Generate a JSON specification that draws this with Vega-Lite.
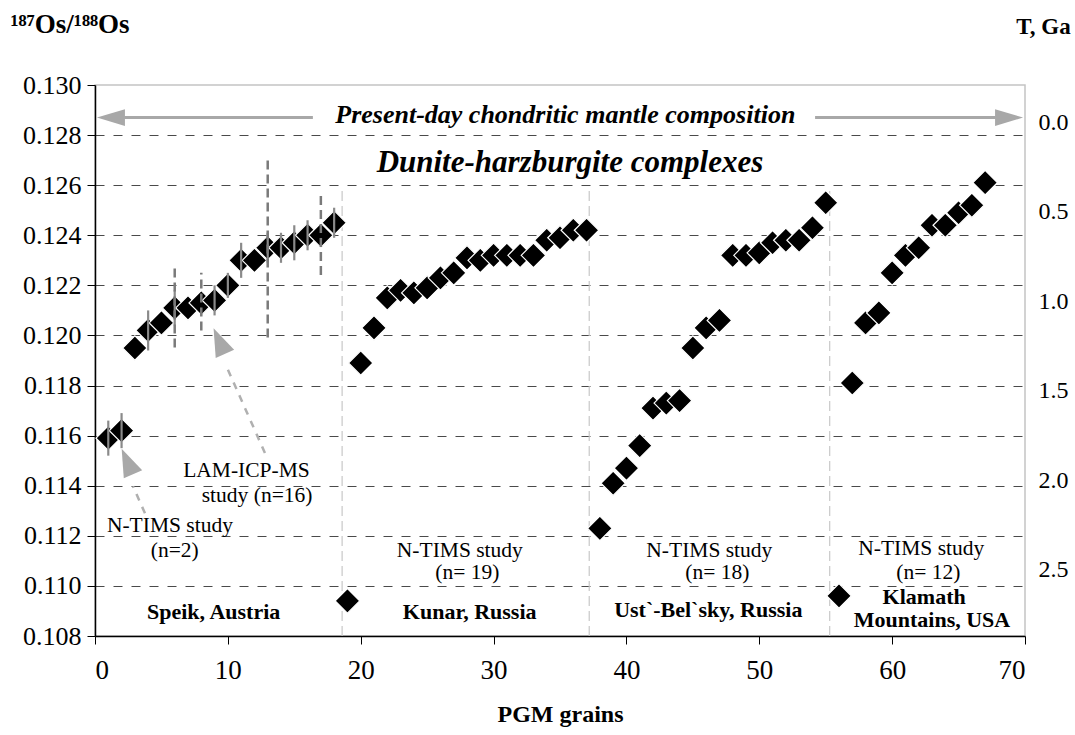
{
  "$schema": "https://vega.github.io/schema/vega-lite/v6.json",
  "width": 930,
  "height": 551,
  "autosize": {"type": "none"},
  "padding": {"left": 95, "top": 85, "right": 50, "bottom": 99},
  "background": "white",
  "config": {
    "view": {"stroke": "#c4c4c4", "strokeWidth": 1.5},
    "font": "Liberation Serif"
  },
  "datasets": {
    "grains": [
      {"x": 1, "y": 0.1159, "complex": "Speik"},
      {"x": 2, "y": 0.1162, "complex": "Speik"},
      {"x": 3, "y": 0.1195, "complex": "Speik"},
      {"x": 4, "y": 0.1202, "complex": "Speik"},
      {"x": 5, "y": 0.1205, "complex": "Speik"},
      {"x": 6, "y": 0.1211, "complex": "Speik"},
      {"x": 7, "y": 0.1211, "complex": "Speik"},
      {"x": 8, "y": 0.1213, "complex": "Speik"},
      {"x": 9, "y": 0.1214, "complex": "Speik"},
      {"x": 10, "y": 0.1220, "complex": "Speik"},
      {"x": 11, "y": 0.1230, "complex": "Speik"},
      {"x": 12, "y": 0.1230, "complex": "Speik"},
      {"x": 13, "y": 0.1235, "complex": "Speik"},
      {"x": 14, "y": 0.1235, "complex": "Speik"},
      {"x": 15, "y": 0.1237, "complex": "Speik"},
      {"x": 16, "y": 0.1240, "complex": "Speik"},
      {"x": 17, "y": 0.1240, "complex": "Speik"},
      {"x": 18, "y": 0.1245, "complex": "Speik"},
      {"x": 19, "y": 0.1094, "complex": "Kunar"},
      {"x": 20, "y": 0.1189, "complex": "Kunar"},
      {"x": 21, "y": 0.1203, "complex": "Kunar"},
      {"x": 22, "y": 0.1215, "complex": "Kunar"},
      {"x": 23, "y": 0.1218, "complex": "Kunar"},
      {"x": 24, "y": 0.1217, "complex": "Kunar"},
      {"x": 25, "y": 0.1219, "complex": "Kunar"},
      {"x": 26, "y": 0.1223, "complex": "Kunar"},
      {"x": 27, "y": 0.1225, "complex": "Kunar"},
      {"x": 28, "y": 0.1231, "complex": "Kunar"},
      {"x": 29, "y": 0.1230, "complex": "Kunar"},
      {"x": 30, "y": 0.1232, "complex": "Kunar"},
      {"x": 31, "y": 0.1232, "complex": "Kunar"},
      {"x": 32, "y": 0.1232, "complex": "Kunar"},
      {"x": 33, "y": 0.1232, "complex": "Kunar"},
      {"x": 34, "y": 0.1238, "complex": "Kunar"},
      {"x": 35, "y": 0.1239, "complex": "Kunar"},
      {"x": 36, "y": 0.1242, "complex": "Kunar"},
      {"x": 37, "y": 0.1242, "complex": "Kunar"},
      {"x": 38, "y": 0.1123, "complex": "Ust-Belsky"},
      {"x": 39, "y": 0.1141, "complex": "Ust-Belsky"},
      {"x": 40, "y": 0.1147, "complex": "Ust-Belsky"},
      {"x": 41, "y": 0.1156, "complex": "Ust-Belsky"},
      {"x": 42, "y": 0.1171, "complex": "Ust-Belsky"},
      {"x": 43, "y": 0.1173, "complex": "Ust-Belsky"},
      {"x": 44, "y": 0.1174, "complex": "Ust-Belsky"},
      {"x": 45, "y": 0.1195, "complex": "Ust-Belsky"},
      {"x": 46, "y": 0.1203, "complex": "Ust-Belsky"},
      {"x": 47, "y": 0.1206, "complex": "Ust-Belsky"},
      {"x": 48, "y": 0.1232, "complex": "Ust-Belsky"},
      {"x": 49, "y": 0.1232, "complex": "Ust-Belsky"},
      {"x": 50, "y": 0.1233, "complex": "Ust-Belsky"},
      {"x": 51, "y": 0.1237, "complex": "Ust-Belsky"},
      {"x": 52, "y": 0.1238, "complex": "Ust-Belsky"},
      {"x": 53, "y": 0.1238, "complex": "Ust-Belsky"},
      {"x": 54, "y": 0.1243, "complex": "Ust-Belsky"},
      {"x": 55, "y": 0.1253, "complex": "Ust-Belsky"},
      {"x": 56, "y": 0.1096, "complex": "Klamath"},
      {"x": 57, "y": 0.1181, "complex": "Klamath"},
      {"x": 58, "y": 0.1205, "complex": "Klamath"},
      {"x": 59, "y": 0.1209, "complex": "Klamath"},
      {"x": 60, "y": 0.1225, "complex": "Klamath"},
      {"x": 61, "y": 0.1232, "complex": "Klamath"},
      {"x": 62, "y": 0.1235, "complex": "Klamath"},
      {"x": 63, "y": 0.1244, "complex": "Klamath"},
      {"x": 64, "y": 0.1244, "complex": "Klamath"},
      {"x": 65, "y": 0.1249, "complex": "Klamath"},
      {"x": 66, "y": 0.1252, "complex": "Klamath"},
      {"x": 67, "y": 0.1261, "complex": "Klamath"}
    ],
    "err_small": [
      {"x": 1, "y": 0.1152, "y2": 0.1166},
      {"x": 2, "y": 0.1155, "y2": 0.1169},
      {"x": 4, "y": 0.1194, "y2": 0.1210},
      {"x": 6, "y": 0.1204, "y2": 0.1218},
      {"x": 9, "y": 0.1208, "y2": 0.1220},
      {"x": 10, "y": 0.1215, "y2": 0.1225},
      {"x": 11, "y": 0.1223, "y2": 0.1237},
      {"x": 13, "y": 0.1229, "y2": 0.1241},
      {"x": 14, "y": 0.1229, "y2": 0.1241},
      {"x": 15, "y": 0.1230, "y2": 0.1244},
      {"x": 16, "y": 0.1234, "y2": 0.1246},
      {"x": 18, "y": 0.1239, "y2": 0.1251}
    ],
    "err_big": [
      {"x": 6, "y": 0.11952, "y2": 0.12269},
      {"x": 8, "y": 0.1202, "y2": 0.1225},
      {"x": 13, "y": 0.11992, "y2": 0.12711},
      {"x": 17, "y": 0.12241, "y2": 0.12574}
    ],
    "separators": [
      {"x": 18.6, "y": 0.108, "y2": 0.1259},
      {"x": 37.2, "y": 0.108, "y2": 0.1259},
      {"x": 55.3, "y": 0.108, "y2": 0.1259}
    ],
    "chondrite_line": [
      {"x": 2.2, "x2": 16.4, "y": 0.1287},
      {"x": 54.2, "x2": 67.8, "y": 0.1287}
    ],
    "chondrite_heads": [
      {"x": 1.2, "y": 0.1287, "dir": "left"},
      {"x": 68.8, "y": 0.1287, "dir": "right"}
    ],
    "pointers": [
      {"x": 12.79, "y": 0.11531, "x2": 9.93, "y2": 0.11872},
      {"x": 3.76, "y": 0.1129, "x2": 2.86, "y2": 0.11398}
    ],
    "pointer_heads": [
      {"x": 9.4, "y": 0.11972},
      {"x": 2.48, "y": 0.11491}
    ],
    "banner": [
      {"x": 35.4, "y": 0.1288, "text": "Present-day chondritic mantle composition"}
    ],
    "heading": [
      {"x": 35.75, "y": 0.12689, "text": "Dunite-harzburgite complexes"}
    ],
    "study_labels": [
      {"x": 11.4, "y": 0.1146, "text": "LAM-ICP-MS"},
      {"x": 12.2, "y": 0.1136, "text": "study (n=16)"},
      {"x": 5.64, "y": 0.1124, "text": "N-TIMS study"},
      {"x": 6.0, "y": 0.1114, "text": "(n=2)"},
      {"x": 27.46, "y": 0.11141, "text": "N-TIMS study"},
      {"x": 28.03, "y": 0.1105, "text": "(n= 19)"},
      {"x": 46.24, "y": 0.11141, "text": "N-TIMS study"},
      {"x": 46.84, "y": 0.1105, "text": "(n= 18)"},
      {"x": 62.19, "y": 0.11149, "text": "N-TIMS study"},
      {"x": 62.72, "y": 0.11053, "text": "(n= 12)"}
    ],
    "site_labels": [
      {"x": 8.93, "y": 0.10897, "text": "Speik, Austria"},
      {"x": 28.2, "y": 0.10897, "text": "Kunar, Russia"},
      {"x": 46.16, "y": 0.10904, "text": "Ust`-Bel`sky, Russia"},
      {"x": 62.41, "y": 0.10956, "text": "Klamath"},
      {"x": 63.0, "y": 0.10862, "text": "Mountains, USA"}
    ],
    "tscale": [
      {"T": 0.0},
      {"T": 2.5}
    ]
  },
  "layer": [
    {
      "encoding": {
        "x": {
          "field": "x",
          "type": "quantitative",
          "scale": {"domain": [0, 70], "nice": false, "zero": false},
          "axis": {
            "values": [0, 10, 20, 30, 40, 50, 60, 70],
            "grid": false,
            "domainColor": "black",
            "domainWidth": 1.5,
            "tickColor": "black",
            "tickSize": 8,
            "labelFont": "Liberation Serif",
            "labelFontSize": 27,
            "labelColor": "black",
            "labelPadding": 13,
            "title": "PGM grains",
            "titleFont": "Liberation Serif",
            "titleFontSize": 24,
            "titleFontWeight": "bold",
            "titleColor": "black",
            "titleBaseline": "alphabetic",
            "titleY": 85
          }
        },
        "y": {
          "field": "y",
          "type": "quantitative",
          "scale": {"domain": [0.108, 0.130], "nice": false, "zero": false},
          "axis": {
            "values": [0.108, 0.110, 0.112, 0.114, 0.116, 0.118, 0.120, 0.122, 0.124, 0.126, 0.128, 0.130],
            "format": ".3f",
            "grid": true,
            "gridDash": [9, 9],
            "gridColor": "#4a4a4a",
            "gridWidth": 1.2,
            "gridOpacity": {"condition": {"test": "datum.value > 0.1295 || datum.value < 0.1085", "value": 0}, "value": 1},
            "domainColor": "black",
            "domainWidth": 1.5,
            "tickColor": "black",
            "tickSize": 8,
            "labelFont": "Liberation Serif",
            "labelFontSize": 26,
            "labelColor": "black",
            "labelPadding": 6,
            "title": "¹⁸⁷Os/¹⁸⁸Os",
            "titleAngle": 0,
            "titleAlign": "left",
            "titleBaseline": "alphabetic",
            "titleX": -85,
            "titleY": -53,
            "titleFont": "Liberation Serif",
            "titleFontSize": 27,
            "titleFontWeight": "bold",
            "titleColor": "black"
          }
        }
      },
      "layer": [
        {
          "data": {"name": "separators"},
          "mark": {"type": "rule", "color": "#c8c8c8", "strokeWidth": 1.2, "strokeDash": [10, 5]},
          "encoding": {"y2": {"field": "y2"}}
        },
        {
          "data": {"name": "chondrite_line"},
          "mark": {"type": "rule", "color": "#a8a8a8", "strokeWidth": 3},
          "encoding": {"x2": {"field": "x2"}}
        },
        {
          "data": {"name": "chondrite_heads"},
          "mark": {"type": "point", "filled": true, "color": "#a8a8a8", "opacity": 1, "size": 784},
          "encoding": {
            "shape": {
              "field": "dir",
              "type": "nominal",
              "scale": {"domain": ["left", "right"], "range": ["M -1 0 L 1 -0.6 L 1 0.6 Z", "M 1 0 L -1 -0.6 L -1 0.6 Z"]},
              "legend": null
            }
          }
        },
        {
          "data": {"name": "pointers"},
          "mark": {"type": "rule", "color": "#b0b0b0", "strokeWidth": 2.5, "strokeDash": [7, 7]},
          "encoding": {"x2": {"field": "x2"}, "y2": {"field": "y2"}}
        },
        {
          "data": {"name": "pointer_heads"},
          "mark": {"type": "point", "filled": true, "color": "#a8a8a8", "opacity": 1, "size": 961, "angle": 336, "shape": "M 0 -1 L 0.65 0.8 L -0.65 0.8 Z"},
          "encoding": {}
        },
        {
          "data": {"name": "grains"},
          "mark": {"type": "point", "shape": "diamond", "filled": true, "fill": "black", "stroke": "white", "strokeWidth": 1.2, "opacity": 1, "size": 600},
          "encoding": {}
        },
        {
          "data": {"name": "err_small"},
          "mark": {"type": "rule", "color": "#8a8a8a", "strokeWidth": 2.2},
          "encoding": {"y2": {"field": "y2"}}
        },
        {
          "data": {"name": "err_big"},
          "mark": {"type": "rule", "color": "#7a7a7a", "strokeWidth": 2.5, "strokeDash": [9, 5]},
          "encoding": {"y2": {"field": "y2"}}
        },
        {
          "data": {"name": "banner"},
          "mark": {"type": "text", "font": "Liberation Serif", "fontSize": 26, "fontStyle": "italic", "fontWeight": "bold", "color": "black", "align": "center", "baseline": "middle"},
          "encoding": {"text": {"field": "text"}}
        },
        {
          "data": {"name": "heading"},
          "mark": {"type": "text", "font": "Liberation Serif", "fontSize": 31, "fontStyle": "italic", "fontWeight": "bold", "color": "black", "align": "center", "baseline": "middle"},
          "encoding": {"text": {"field": "text"}}
        },
        {
          "data": {"name": "study_labels"},
          "mark": {"type": "text", "font": "Liberation Serif", "fontSize": 21.5, "color": "black", "align": "center", "baseline": "middle"},
          "encoding": {"text": {"field": "text"}}
        },
        {
          "data": {"name": "site_labels"},
          "mark": {"type": "text", "font": "Liberation Serif", "fontSize": 22, "fontWeight": "bold", "color": "black", "align": "center", "baseline": "middle"},
          "encoding": {"text": {"field": "text"}}
        }
      ]
    },
    {
      "data": {"name": "tscale"},
      "mark": {"type": "point", "opacity": 0},
      "encoding": {
        "y": {
          "field": "T",
          "type": "quantitative",
          "scale": {"domain": [-0.2097, 2.872], "reverse": true, "nice": false, "zero": false},
          "axis": {
            "orient": "right",
            "values": [0, 0.5, 1, 1.5, 2, 2.5],
            "format": ".1f",
            "grid": false,
            "domain": false,
            "ticks": false,
            "tickSize": 0,
            "labelFont": "Liberation Serif",
            "labelFontSize": 24,
            "labelColor": "black",
            "labelPadding": 13,
            "title": "T, Ga",
            "titleAngle": 0,
            "titleAlign": "center",
            "titleBaseline": "alphabetic",
            "titleX": 18,
            "titleY": -52,
            "titleFont": "Liberation Serif",
            "titleFontSize": 23,
            "titleFontWeight": "bold",
            "titleColor": "black"
          }
        }
      }
    }
  ],
  "resolve": {"scale": {"y": "independent"}, "axis": {"y": "independent"}}
}
